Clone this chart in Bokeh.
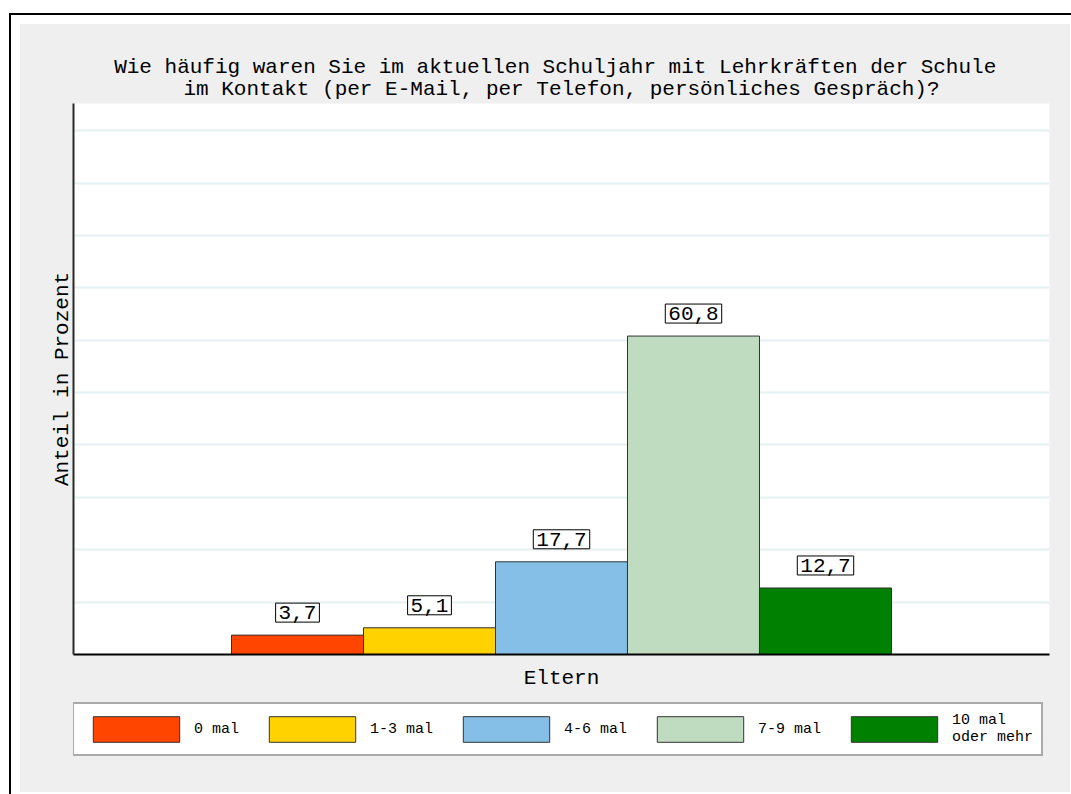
from bokeh.plotting import figure
from bokeh.models import (Range1d, ColumnDataSource, Legend, LegendItem,
                          FixedTicker, Title, Text)
from bokeh.layouts import column
from bokeh.core.properties import value
from bokeh.embed import file_html
from bokeh.resources import INLINE

# ---- data ----
title_lines = ["Wie häufig waren Sie im aktuellen Schuljahr mit Lehrkräften der Schule ",
               "im Kontakt (per E-Mail, per Telefon, persönliches Gespräch)?"]
categories = ["0 mal", "1-3 mal", "4-6 mal", "7-9 mal", "10 mal\noder mehr"]
values = [3.7, 5.1, 17.7, 60.8, 12.7]
colors = ["#ff4500", "#ffd200", "#85bfe8", "#c0dcc0", "#008000"]
group_label = "Eltern"
y_label = "Anteil in Prozent"
y_ticks = [0, 10, 20, 30, 40, 50, 60, 70, 80, 90, 100]

FONT = "Liberation Mono"
GREY = "#efefef"
W = 1050

positions = list(range(1, len(values) + 1))
labels = [f"{v:.1f}".replace(".", ",") for v in values]
src = ColumnDataSource(dict(x=positions, top=values, color=colors,
                            label=labels, cat=categories))

# ================= main chart =================
p = figure(width=W, height=672, title=None,
           x_range=Range1d(-0.697, 6.697), y_range=Range1d(0, 105.2),
           output_backend="svg", toolbar_location=None,
           min_border_left=53, min_border_right=21,
           min_border_top=79, min_border_bottom=42)
p.border_fill_color = GREY
p.background_fill_color = "white"
p.outline_line_color = None

# title: two centred lines (first added sits nearest the plot)
t2 = Title(text=title_lines[1], align="center", text_font=FONT, text_font_size="21px",
           text_font_style="normal", text_color="black", standoff=6)
p.add_layout(t2, "above")
t1 = Title(text=title_lines[0], align="center", text_font=FONT, text_font_size="21px",
           text_font_style="normal", text_color="black", standoff=-12)
p.add_layout(t1, "above")

# bars
r = p.vbar(x="x", top="top", width=1, source=src, fill_color="color",
           line_color="#333333", line_width=1)

# value labels (boxed)
tprops = Text.properties()
txt_kw = dict(x="x", y="top", text="label", source=src, text_align="center",
              text_baseline="bottom", y_offset=-13, text_font=value(FONT),
              text_font_size=value("21px"), text_color="black")
if "background_fill_color" in tprops:
    txt_kw["background_fill_color"] = "white"
if "border_line_color" in tprops:
    txt_kw["border_line_color"] = "black"
    txt_kw["border_line_width"] = 1
if "padding" in tprops:
    txt_kw["padding"] = 3
p.text(**txt_kw)

# axes (no tick marks / tick labels)
for ax in (p.xaxis[0], p.yaxis[0]):
    ax.ticker = FixedTicker(ticks=[])
    ax.major_tick_out = 0
    ax.major_tick_in = 0
    ax.minor_tick_out = 0
    ax.minor_tick_in = 0
    ax.major_label_standoff = 0
    ax.axis_label_text_font = FONT
    ax.axis_label_text_font_size = "21px"
    ax.axis_label_text_font_style = "normal"
    ax.axis_label_text_color = "black"
    ax.axis_line_width = 2

p.yaxis.axis_line_color = "#2a2a2a"
p.yaxis.axis_label = y_label
p.yaxis.axis_label_standoff = 0
p.xaxis.axis_line_color = "black"
p.xaxis.axis_label = group_label
p.xaxis.axis_label_standoff = 12

p.xgrid.grid_line_color = None
p.ygrid.ticker = FixedTicker(ticks=y_ticks)
p.ygrid.grid_line_color = "#e6eff1"
p.ygrid.grid_line_width = 2

# ================= legend strip =================
pl = figure(width=W, height=96, title=None,
            x_range=Range1d(-0.697, 6.697), y_range=Range1d(1000, 1001),
            x_axis_type=None, y_axis_type=None,
            output_backend="svg", toolbar_location=None,
            min_border_left=53, min_border_right=21,
            min_border_top=0, min_border_bottom=0)
pl.border_fill_color = GREY
pl.background_fill_color = None
pl.outline_line_color = None
pl.grid.visible = False
# same bars (outside this strip's visible range) used only as legend glyphs
rl = pl.vbar(x="x", top="top", width=1, source=src, fill_color="color",
             line_color="#333333", line_width=1)

items = [LegendItem(label=c, renderers=[rl], index=i) for i, c in enumerate(categories)]
legend = Legend(items=items, orientation="horizontal", location=(-1, 36),
                glyph_width=108, glyph_height=32, label_standoff=4, spacing=19,
                padding=8, margin=0,
                label_text_font=FONT, label_text_font_size="15px",
                label_text_color="black",
                background_fill_color="white", background_fill_alpha=1,
                border_line_color="#555555", border_line_width=2)
pl.add_layout(legend, "center")

layout = column(p, pl, spacing=0,
                styles={"margin-left": "20px", "margin-top": "24px",
                        "background-color": GREY,
                        "outline": "2px solid black", "outline-offset": "9px"})

open("out.html", "w").write(file_html(layout, INLINE))
